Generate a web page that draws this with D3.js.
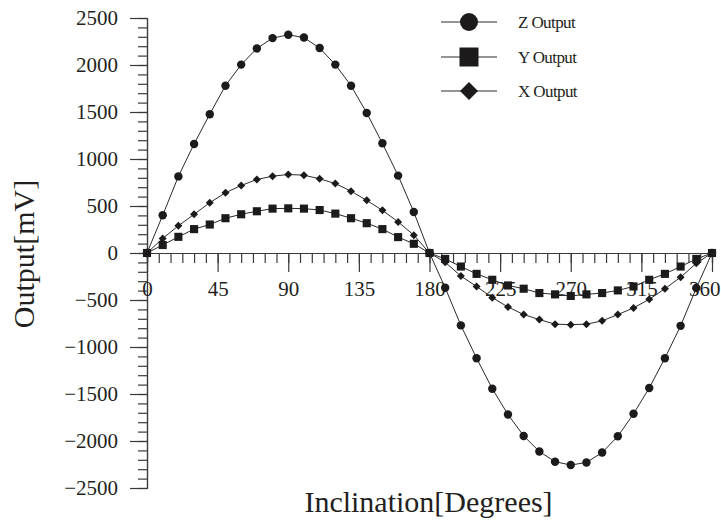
<!DOCTYPE html>
<html>
<head>
<meta charset="utf-8">
<script src="https://d3js.org/d3.v7.min.js"></script>
<style>
    body { margin: 0; background: #fff; }
    svg { display: block; }
    text { font-family: "Liberation Serif", "DejaVu Serif", serif; fill: #231f20; }
</style>
</head>
<body>
<script>
// 경사각 (도)
var degrees = [0, 10, 20, 30, 40, 50, 60, 70, 80, 90, 100, 110, 120, 130, 140, 150, 160, 170, 180,
               190, 200, 210, 220, 230, 240, 250, 260, 270, 280, 290, 300, 310, 320, 330, 340, 350, 360];

// 출력 (mV)
var zOutput = [0, 401, 815, 1160, 1477, 1780, 2004, 2176, 2286, 2321, 2292, 2180, 2004, 1780, 1490, 1167, 823, 436, 0,
               -370, -770, -1119, -1444, -1718, -1946, -2112, -2220, -2256, -2228, -2123, -1950, -1711, -1436, -1119, -775, -373, 0];
var yOutput = [0, 85, 172, 254, 303, 370, 412, 444, 472, 475, 472, 457, 419, 370, 317, 254, 169, 98, 0,
               -63, -144, -222, -285, -345, -380, -426, -440, -457, -440, -426, -398, -356, -285, -222, -144, -63, 0];
var xOutput = [0, 155, 289, 412, 535, 641, 718, 782, 817, 835, 828, 789, 739, 658, 560, 454, 331, 190, 0,
               -98, -246, -356, -475, -574, -655, -708, -757, -762, -757, -722, -655, -584, -493, -380, -257, -110, 0];

// 눈금
var xTicks = [0, 45, 90, 135, 180, 225, 270, 315, 360];
var yTicks = [-2500, -2000, -1500, -1000, -500, 0, 500, 1000, 1500, 2000, 2500];
var seriesNames = ['Z Output', 'Y Output', 'X Output'];

window.onload = function(){

    var svg = d3.select(document.body).append('svg')
        .attr('width', 721)
        .attr('height', 525);

    var x = d3.scaleLinear().domain([0, 360]).range([147, 712]);
    var y = d3.scaleLinear().domain([-2500, 2500]).range([488, 18]);

    drawAxes(svg, x, y);
    drawSeries(svg, x, y);
    drawLegend(svg);

    /***********************************************/
    function drawAxes(svg, x, y){
        // 보조 눈금 (y: 100 간격, x: 7.5도 간격)
        var yMinor = d3.range(-2500, 2501, 100);
        var xMinor = d3.range(0, 360.1, 7.5);

        svg.append('g')
            .attr('transform', 'translate(' + x(0) + ',0)')
            .call(d3.axisLeft(y).tickValues(yMinor).tickSize(9).tickFormat(''))
            .call(styleAxis);

        svg.append('g')
            .attr('transform', 'translate(' + x(0) + ',0)')
            .call(d3.axisLeft(y).tickValues(yTicks).tickSizeInner(17).tickSizeOuter(0).tickPadding(12)
                .tickFormat(d3.format('d')))
            .call(styleAxis)
            .selectAll('text').style('font-size', '21px');

        svg.append('g')
            .attr('transform', 'translate(0,' + y(0) + ')')
            .call(d3.axisBottom(x).tickValues(xMinor).tickSize(10).tickFormat(''))
            .call(styleAxis);

        var xAxis = svg.append('g')
            .attr('transform', 'translate(0,' + y(0) + ')')
            .call(d3.axisBottom(x).tickValues(xTicks).tickSizeInner(19).tickSizeOuter(0).tickPadding(9))
            .call(styleAxis);
        xAxis.selectAll('text').style('font-size', '21px');
        // 마지막 라벨은 화면 안에 들어오도록 오른쪽 정렬
        xAxis.selectAll('.tick text')
            .filter(function(d){ return d === 360; })
            .attr('text-anchor', 'end')
            .attr('x', 720 - x(360));

        // 축 제목
        svg.append('text')
            .attr('x', 428.5).attr('y', 512)
            .attr('text-anchor', 'middle')
            .style('font-size', '30px')
            .text('Inclination[Degrees]');

        svg.append('text')
            .attr('transform', 'translate(34,254) rotate(-90)')
            .attr('text-anchor', 'middle')
            .style('font-size', '30px')
            .text('Output[mV]');
    }

    function styleAxis(g){
        g.select('.domain').attr('stroke', '#3a3a3a').attr('stroke-width', 1.2);
        g.selectAll('.tick line').attr('stroke', '#3a3a3a').attr('stroke-width', 1.2);
        g.selectAll('text').attr('fill', '#231f20').style('font-family', '"Liberation Serif", serif');
    }

    function drawSeries(svg, x, y){
        var list = [
            {values: zOutput, shape: d3.symbolCircle, size: 56, rotate: 0},
            {values: yOutput, shape: d3.symbolSquare, size: 66, rotate: 0},
            {values: xOutput, shape: d3.symbolSquare, size: 32, rotate: 45}
        ];
        var line = d3.line()
            .x(function(d, i){ return x(degrees[i]); })
            .y(function(d){ return y(d); });

        list.forEach(function(s){
            svg.append('path')
                .attr('d', line(s.values))
                .attr('fill', 'none')
                .attr('stroke', '#2a2a2a')
                .attr('stroke-width', 1);
        });

        list.forEach(function(s){
            svg.append('g').selectAll('path').data(s.values).enter()
                .append('path')
                .attr('d', d3.symbol().type(s.shape).size(s.size))
                .attr('transform', function(d, i){
                    return 'translate(' + x(degrees[i]) + ',' + y(d) + ') rotate(' + s.rotate + ')';
                })
                .attr('fill', '#1c1a1a');
        });
    }

    function drawLegend(svg){
        var rows = [
            {shape: d3.symbolCircle, size: 254, rotate: 0, cy: 22},
            {shape: d3.symbolSquare, size: 361, rotate: 0, cy: 57},
            {shape: d3.symbolSquare, size: 162, rotate: 45, cy: 91}
        ];
        var g = svg.append('g');
        rows.forEach(function(r, i){
            g.append('line')
                .attr('x1', 441).attr('x2', 497)
                .attr('y1', r.cy).attr('y2', r.cy)
                .attr('stroke', '#2a2a2a').attr('stroke-width', 1);
            g.append('path')
                .attr('d', d3.symbol().type(r.shape).size(r.size))
                .attr('transform', 'translate(469,' + r.cy + ') rotate(' + r.rotate + ')')
                .attr('fill', '#1c1a1a');
            g.append('text')
                .attr('x', 518).attr('y', r.cy + 5.5)
                .style('font-size', '17px')
                .style('letter-spacing', '-0.6px')
                .text(seriesNames[i]);
        });
    }
}
</script>
</body>
</html>
